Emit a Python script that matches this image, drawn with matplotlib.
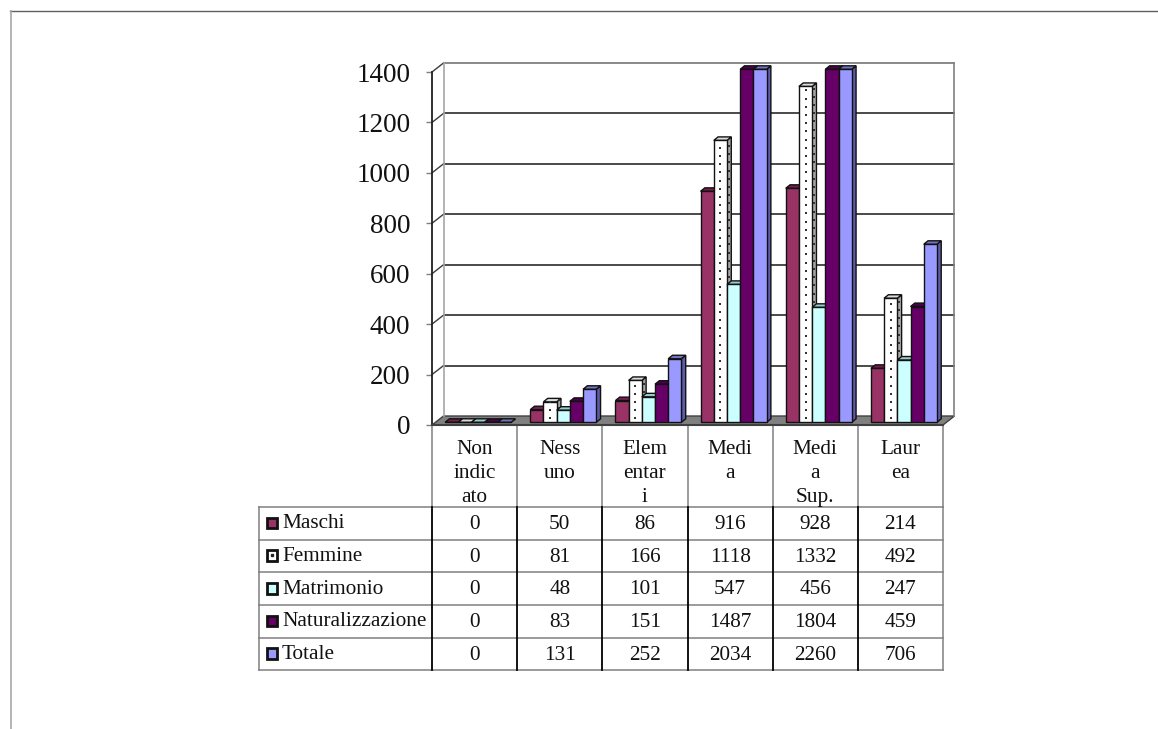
import numpy as np
import matplotlib
matplotlib.use('Agg')
import matplotlib.pyplot as plt
from matplotlib.patches import Polygon, Rectangle

plt.rcParams['font.family'] = ['Liberation Serif', 'DejaVu Serif']

categories = ['Non\nindic\nato', 'Ness\nuno', 'Elem\nentar\ni', 'Medi\na', 'Medi\na\nSup.', 'Laur\nea']
series_names = ['Maschi', 'Femmine', 'Matrimonio', 'Naturalizzazione', 'Totale']
maschi = [0, 50, 86, 916, 928, 214]
femmine = [0, 81, 166, 1118, 1332, 492]
matrimonio = [0, 48, 101, 547, 456, 247]
naturalizzazione = [0, 83, 151, 1487, 1804, 459]
totale = [0, 131, 252, 2034, 2260, 706]
y_ticks = [0, 200, 400, 600, 800, 1000, 1200, 1400]

series = [maschi, femmine, matrimonio, naturalizzazione, totale]
front_cols = ['#993366', '#FFFFFF', '#CCFFFF', '#660066', '#9999FF']
side_cols = ['#4d1a33', '#a8a8a8', '#669999', '#330033', '#5c5ca8']
top_cols = ['#731f4d', '#dcdcdc', '#99cccc', '#4d004d', '#7373c0']

W, H = 1158, 729
fig = plt.figure(figsize=(W / 100, H / 100), dpi=100, facecolor='white')

# pixel layer for the page frame and the data table
pg = fig.add_axes([0, 0, 1, 1])
pg.set_xlim(0, W)
pg.set_ylim(H, 0)
pg.axis('off')

# chart axes = front plane of the 3D box
left, right, y0, y1400 = 432, 943, 425, 72
ax = fig.add_axes([left / W, (H - y0) / H, (right - left) / W, (y0 - y1400) / H])
ax.set_xlim(0, 6)
ax.set_ylim(0, 1400)
ax.patch.set_alpha(0)
for s in ax.spines.values():
    s.set_visible(False)

ux = 6 / (right - left)      # data units per pixel
uy = 1400 / (y0 - y1400)
depth_x, depth_y = 11.5 * ux, 9 * uy
grid_c = '#3c3c3c'

# floor
ax.add_patch(Polygon([(0, 0), (6, 0), (6 + depth_x, depth_y), (depth_x, depth_y)],
                     fc='#808080', ec='#404040', lw=1, clip_on=False, zorder=1))

# walls and gridlines
for t in y_ticks[1:]:
    c = '#808080' if t == 1400 else grid_c
    ax.plot([depth_x, 6 + depth_x], [t + depth_y, t + depth_y], color=c, lw=1.3, clip_on=False, zorder=1)
    ax.plot([0, depth_x], [t, t + depth_y], color=grid_c, lw=1, clip_on=False, zorder=1)
ax.plot([depth_x, depth_x], [depth_y, 1400 + depth_y], color='#a6a6a6', lw=1.2, clip_on=False, zorder=1)
ax.plot([6 + depth_x, 6 + depth_x], [depth_y, 1400 + depth_y], color='#808080', lw=1.2, clip_on=False, zorder=1)
ax.plot([0, 0], [0, 1400], color='#202020', lw=1.3, clip_on=False, zorder=2)
ax.plot([0, 6], [0, 0], color='#404040', lw=1.5, clip_on=False, zorder=2)

# bars
bar_w = 13.2 * ux
off_x, off_y = 3.5 * ux, 2.7 * uy
bar_dx, bar_dy = 4.3 * ux, 3.5 * uy
gap = (1 - 5 * bar_w) / 2
z = 3
for c in range(len(categories)):
    for i, vals in enumerate(series):
        v = min(vals[c], 1400)
        x = c + gap + off_x + i * bar_w
        b = off_y
        t = b + v
        if t > 1400 + off_y:
            t = 1400 + off_y
        side = [(x + bar_w, b), (x + bar_w + bar_dx, b + bar_dy), (x + bar_w + bar_dx, t + bar_dy), (x + bar_w, t)]
        top = [(x, t), (x + bar_w, t), (x + bar_w + bar_dx, t + bar_dy), (x + bar_dx, t + bar_dy)]
        ax.add_patch(Polygon(side, fc=side_cols[i], ec='#111111', lw=1, clip_on=False, zorder=z))
        ax.add_patch(Polygon(top, fc=top_cols[i], ec='#111111', lw=1, clip_on=False, zorder=z))
        ax.bar(x, v, width=bar_w, bottom=b, align='edge', color=front_cols[i],
               edgecolor='#111111', linewidth=1, clip_on=False, zorder=z)
        if i == 1 and v > 0:
            # dotted fill of the Femmine series
            ys = np.arange(b + 4 * uy, t, 8.2 * uy)
            ax.scatter([x + bar_w / 2] * len(ys), ys, s=4, color='#333333', marker='s', lw=0, clip_on=False, zorder=z)
            ax.scatter([x + bar_w + bar_dx / 2] * len(ys), ys + bar_dy / 2, s=2.5, color='#333333', marker='s', lw=0, clip_on=False, zorder=z)
        z += 1

ax.set_xticks([])
ax.set_yticks(y_ticks)
ax.tick_params(axis='y', length=4.5, width=1, color='#808080', pad=11, labelsize=19.5, labelcolor='#111111')

# data table
col_x = [432 + k * (right - left) / 6 for k in range(7)]
tab_left = 258.5
row_y = [507, 539.5, 572, 605, 637.5, 670]
gray = '#808080'
for yy in row_y:
    pg.plot([tab_left, right], [yy, yy], color=gray, lw=1.1)
pg.plot([tab_left, tab_left], [row_y[0], row_y[-1]], color=gray, lw=1.1)
for xx in col_x:
    pg.plot([xx, xx], [y0, row_y[0]], color=gray, lw=1.1)
for xx in col_x[:-1]:
    pg.plot([xx, xx], [row_y[0], row_y[-1]], color='black', lw=1.3)
pg.plot([right, right], [row_y[0], row_y[-1]], color=gray, lw=1.1)

for k, lab in enumerate(categories):
    pg.text((col_x[k] + col_x[k + 1]) / 2, 440, lab, ha='center', va='top', fontsize=15.3,
            linespacing=1.34, color='#111111')

for r, name in enumerate(series_names):
    cy = (row_y[r] + row_y[r + 1]) / 2
    pg.add_patch(Rectangle((266.5, cy - 5.5), 10.5, 10.5, fc=front_cols[r], ec='#111111', lw=2))
    if r == 1:
        pg.plot([271.7], [cy - 0.3], marker='s', ms=1.5, color='#222222', lw=0)
    pg.text(282, cy + 0.5, name, ha='left', va='center', fontsize=15.3, color='#111111')
    for k in range(len(categories)):
        pg.text((col_x[k] + col_x[k + 1]) / 2, cy + 1.5, str(series[r][k]), ha='center', va='center',
                fontsize=15.3, color='#111111')

# page frame
pg.plot([10, W], [10.5, 10.5], color='#606060', lw=1)
pg.plot([10.5, 10.5], [11, H], color='#a8a8a8', lw=1.2)

fig.savefig('out.png', dpi=100)
